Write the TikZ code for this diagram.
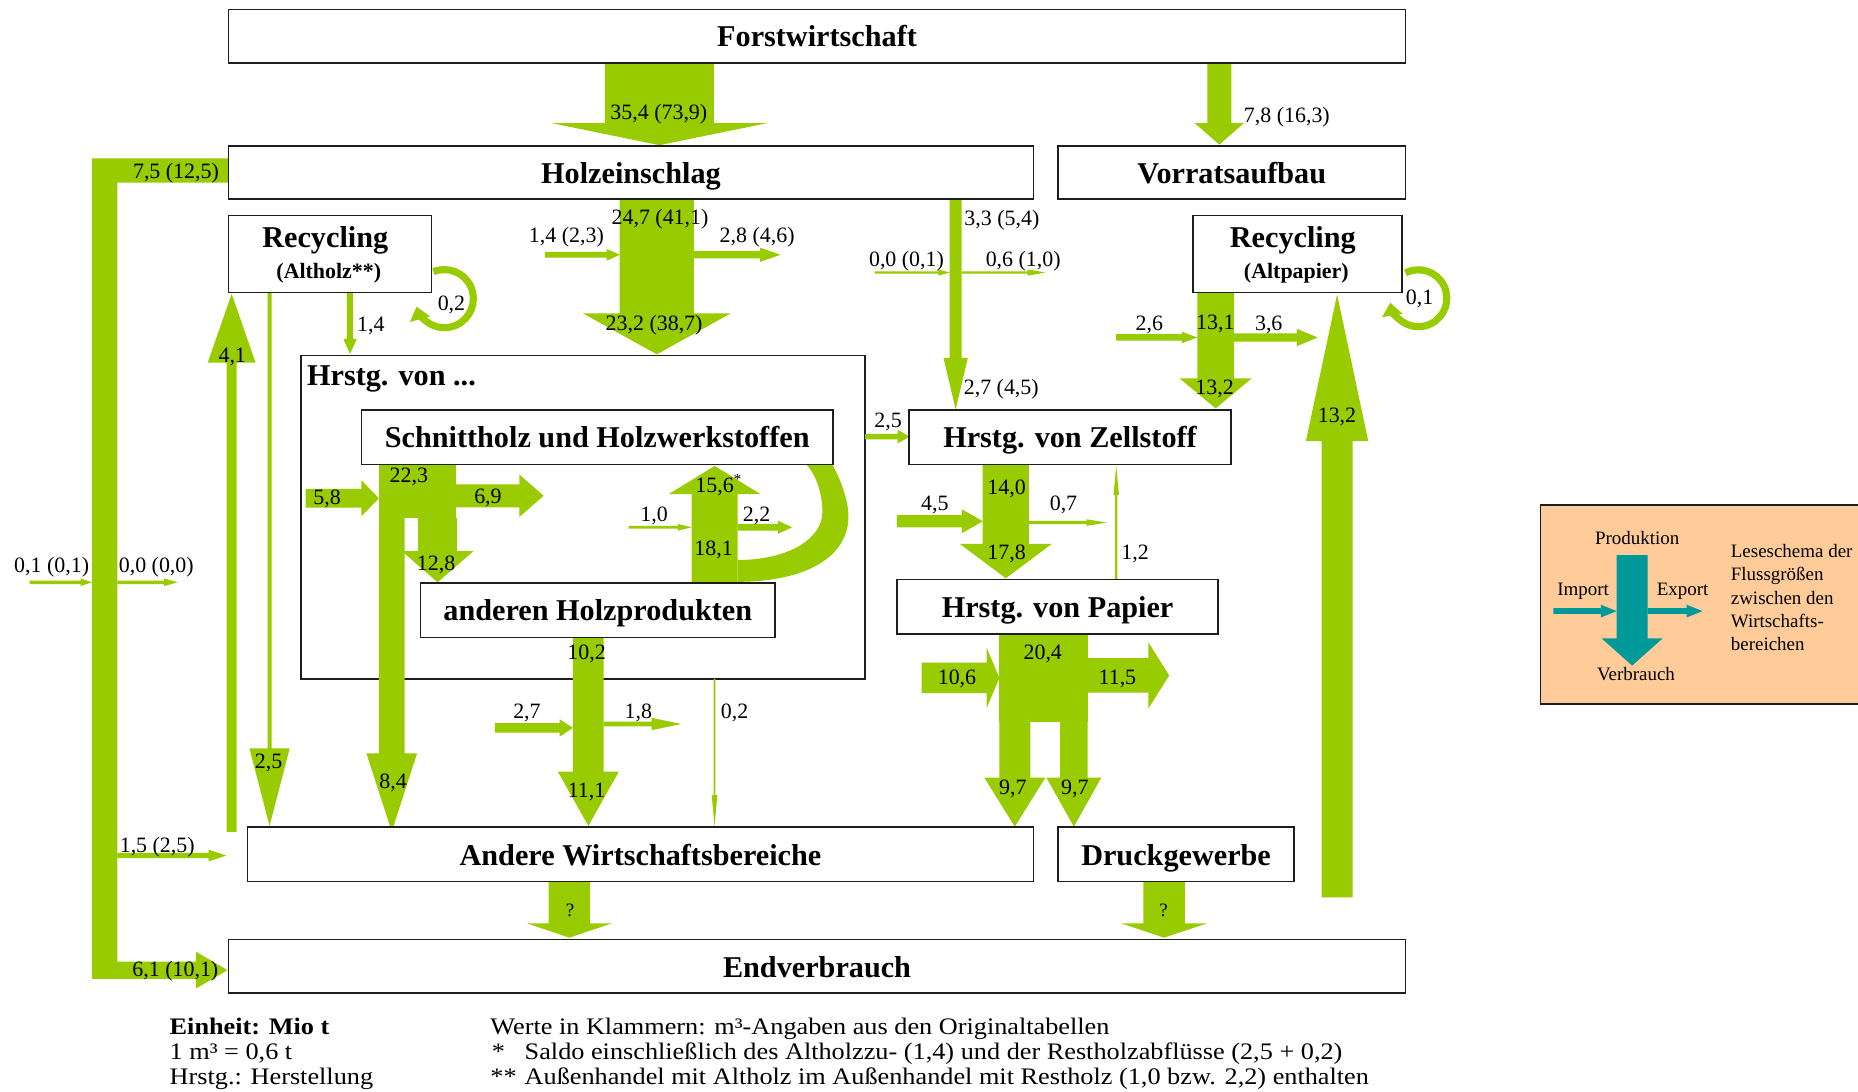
\documentclass[tikz,border=0pt]{standalone}
\usepackage{fontspec}
\setmainfont{Liberation Serif}
\newfontfamily\footfont[FakeStretch=1.108]{Liberation Serif}
\usetikzlibrary{arrows.meta}
\definecolor{flowgreen}{RGB}{153,204,0}
\definecolor{flowteal}{RGB}{0,153,153}
\definecolor{legbg}{RGB}{255,204,153}
\definecolor{boxline}{RGB}{30,30,30}
% vertical block arrow: x, y start, y head base, y tip, half shaft, half head
\newcommand{\flowV}[6]{\fill[flow] ({#1-#5},#2) -- ({#1+#5},#2) -- ({#1+#5},#3) -- ({#1+#6},#3) -- (#1,#4) -- ({#1-#6},#3) -- ({#1-#5},#3) -- cycle;}
% horizontal block arrow: y, x start, x head base, x tip, half shaft, half head
\newcommand{\flowH}[6]{\fill[flow] (#2,{#1-#5}) -- (#2,{#1+#5}) -- (#3,{#1+#5}) -- (#3,{#1+#6}) -- (#4,#1) -- (#3,{#1-#6}) -- (#3,{#1-#5}) -- cycle;}
\newcommand{\flab}[3]{\node[lbl] (#1) at (#2) {#3};}
\begin{document}
\begin{tikzpicture}[x=1pt,y=-1pt,
  flow/.style={fill=flowgreen},
  box/.style={draw=boxline,line width=1.3pt,fill=white,inner sep=0pt,outer sep=0pt,text height=18pt,text depth=0pt,font=\fontsize{25.5}{28}\selectfont\bfseries},
  btitle/.style={inner sep=0pt,text height=18pt,text depth=0pt,font=\fontsize{25.5}{28}\selectfont\bfseries},
  bsub/.style={inner sep=0pt,text height=12.5pt,text depth=0pt,font=\fontsize{18.5}{20}\selectfont\bfseries},
  lbl/.style={inner sep=0pt,text height=12.5pt,text depth=0pt,font=\fontsize{18.5}{20}\selectfont},
  qlbl/.style={inner sep=0pt,text height=11pt,text depth=0pt,font=\fontsize{16}{18}\selectfont},
  foot/.style={inner sep=0pt,anchor=west,text height=13.5pt,text depth=0pt,font=\footfont\fontsize{20}{22}\selectfont},
  leg/.style={inner sep=0pt,text height=11pt,text depth=0pt,font=\fontsize{16}{19.5}\selectfont},
  loopline/.style={draw=flowgreen,line width=6pt,-{Triangle[width=17pt,length=11pt]}}]

\useasboundingbox (0,0) rectangle (1568,921);
\fill[white] (0,0) rectangle (1568,921);

% outer box "Hrstg. von ..."
\node[draw=boxline,line width=1.3pt,inner sep=0pt,outer sep=0pt,minimum width=476pt,minimum height=273pt] (hrstg) at (492,436.5) {};

% ---- flows ----
\flowV{556.5}{53}{104}{122.5}{46}{90.5}
\flowV{1029}{53}{104}{122}{10.1}{20.7}
\flowV{554.3}{168}{264.5}{299}{31.3}{62.3}
\flowH{215}{460}{512}{523.1}{2.4}{5}
\flowH{215}{585.5}{641.5}{658.7}{3}{6}
\flowV{806.5}{168}{302}{345.5}{5.1}{10.3}
\flowH{230}{738}{792}{801.5}{1}{2.6}
\flowH{230}{811.5}{867.3}{882.4}{1}{2.6}
% Recycling Altholz
\flowV{295.4}{247}{286}{298.7}{2.6}{5.7}
\flowV{195.5}{702}{306}{248}{4.2}{20.2}
\flowV{227.5}{247}{631.5}{697}{1.7}{17}
\draw[loopline] (365.8,229.3) arc[start angle=-112, end angle=164, radius=24.5];
% big left bar
\fill[flow] (77.5,133.6) -- (193,133.6) -- (193,154.2) -- (99,154.2) -- (99,811.5) -- (165.6,811.5) -- (165.6,803.3) -- (192,818.7) -- (165.6,834.1) -- (165.6,826) -- (77.5,826) -- cycle;
\flowH{491.4}{25}{68}{77.6}{1.5}{3.2}
\flowH{491.4}{99}{138.5}{150}{1.5}{3.2}
\flowH{722}{99}{176}{191}{2.2}{5}
% inside Hrstg
\flowH{420.5}{258}{305}{319.8}{7.9}{15.2}
\fill[flow] (319.7,392) rectangle (385,437.5);
\flowV{330.6}{437}{635.7}{701.8}{10.9}{21.4}
\flowV{369.3}{437}{465}{491.4}{16.5}{30.3}
\flowH{418.4}{384.9}{438.4}{458.8}{9.7}{17.8}
\flowV{603.1}{492}{417}{393.2}{19.4}{38.75}
\flowH{445}{530.5}{572}{583.8}{1.2}{2.9}
\flowH{445}{622.4}{656.4}{668.5}{2.8}{5.6}
\fill[flow] (680.6,392) -- (702.5,392) .. controls (712,410) and (716,425) .. (716,436) .. controls (716,470) and (680,491) .. (622.4,491) -- (622.4,472.6) .. controls (665,472.6) and (694,455) .. (694,432) .. controls (694,415) and (688,400) .. (680.6,392) -- cycle;
\flowV{496.5}{538}{651.2}{697}{13}{25.7}
\flowH{614.3}{417.6}{472.3}{483.6}{4}{7.3}
\flowH{611}{509.5}{549.9}{575}{2}{5.2}
\flowV{603}{573}{671}{697.5}{0.8}{2.4}
\flowH{368.5}{730}{757.5}{767.5}{2.3}{5.8}
% Zellstoff
\flowV{848.8}{392}{459}{488}{19.5}{38.8}
\flowH{439.9}{756.8}{811.8}{829.4}{5.2}{10.1}
\flowH{441}{868.3}{917}{934}{1.4}{2.8}
\flowV{942}{489}{417.7}{393}{0.9}{2.3}
% Papier
\fill[flow] (843.3,535) rectangle (917.8,609.5);
\flowV{856.4}{609}{656.3}{697.6}{13.1}{25.75}
\flowV{906.25}{609}{656.3}{697.6}{11.55}{23.15}
\flowH{572.1}{777.8}{832.7}{843.4}{12.9}{25.35}
\flowH{570}{917.7}{969.2}{986.7}{14.5}{27.85}
% Recycling Altpapier
\flowV{1025.9}{247}{319.3}{344.6}{15.5}{30.5}
\flowH{284.8}{942}{997.3}{1010.5}{2.75}{4.9}
\flowH{284.8}{1041.3}{1094.5}{1112}{3.5}{7.3}
\flowV{1128.4}{757.2}{372.2}{248.5}{13}{26.3}
\draw[loopline] (1186.1,230.3) arc[start angle=-117, end angle=171, radius=24];
% to Endverbrauch
\flowV{480.5}{744}{779.2}{791.3}{17.5}{35.9}
\flowV{982.45}{744}{779.2}{791.3}{17.55}{36.25}

% ---- boxes ----
\node[box,minimum width=993pt,minimum height=45pt] (forst) at (689.5,30.5) {Forstwirtschaft};
\node[box,minimum width=679pt,minimum height=45pt] (holz) at (532.5,145.5) {Holzeinschlag};
\node[box,minimum width=293pt,minimum height=45pt] (vorrat) at (1039.5,145.5) {Vorratsaufbau};
\node[box,minimum width=171pt,minimum height=65pt] (recA) at (278.5,214.5) {};
\node[box,minimum width=176pt,minimum height=65pt] (recP) at (1095,214.5) {};
\node[box,minimum width=398pt,minimum height=46pt] (schnitt) at (504,369) {Schnittholz und Holzwerkstoffen};
\node[box,minimum width=299pt,minimum height=46pt] (andH) at (504.5,515) {anderen Holzprodukten};
\node[box,minimum width=272pt,minimum height=46pt] (zell) at (903,369) {Hrstg. von Zellstoff};
\node[box,minimum width=271pt,minimum height=46pt] (papier) at (892.5,512) {Hrstg. von Papier};
\node[box,minimum width=663pt,minimum height=46pt] (andW) at (540.5,721) {Andere Wirtschaftsbereiche};
\node[box,minimum width=199pt,minimum height=46pt] (druck) at (992.5,721) {Druckgewerbe};
\node[box,minimum width=993pt,minimum height=45pt] (endv) at (689.5,815.5) {Endverbrauch};

\node[btitle] (recAt) at (274.5,199.7) {Recycling};
\node[bsub] (recAs) at (277.5,229) {(Altholz**)};
\node[btitle] (recPt) at (1091,199.7) {Recycling};
\node[bsub] (recPs) at (1094,229) {(Altpapier)};
\node[btitle,anchor=west] (hrstgt) at (259,316) {Hrstg. von ...};

% ---- labels ----
\flab{a1}{556,95}{35,4 (73,9)}
\flab{a2}{1086,97}{7,8 (16,3)}
\flab{a3}{148.5,144}{7,5 (12,5)}
\flab{a4}{557,183}{24,7 (41,1)}
\flab{a5}{478,198}{1,4 (2,3)}
\flab{a6}{639,198}{2,8 (4,6)}
\flab{a7}{845.5,184}{3,3 (5,4)}
\flab{a8}{765,219}{0,0 (0,1)}
\flab{a9}{863.5,219}{0,6 (1,0)}
\flab{a10}{381,256}{0,2}
\flab{a11}{313,273.4}{1,4}
\flab{a12}{552,273}{23,2 (38,7)}
\flab{a13}{196,300}{4,1}
\flab{a14}{970,272.8}{2,6}
\flab{a15}{1025.6,271.5}{13,1}
\flab{a16}{1070.7,272.8}{3,6}
\flab{a17}{1198,251}{0,1}
\flab{a18}{1025,326.3}{13,2}
\flab{a19}{845,327}{2,7 (4,5)}
\flab{a20}{1128.3,350.2}{13,2}
\flab{a21}{749.4,354.4}{2,5}
\flab{a22}{345,400.8}{22,3}
\flab{a23}{276,419.7}{5,8}
\flab{a24}{411.8,419}{6,9}
\flab{a25}{606.5,409.3}{15,6\textsuperscript{*}}
\flab{a26}{552,433.8}{1,0}
\flab{a27}{638.5,433.8}{2,2}
\flab{a28}{602.2,462.7}{18,1}
\flab{a29}{368,474.8}{12,8}
\flab{a30}{849.5,410.7}{14,0}
\flab{a31}{789,424.8}{4,5}
\flab{a32}{897.5,424.8}{0,7}
\flab{a33}{849.5,465.5}{17,8}
\flab{a34}{958,465.5}{1,2}
\flab{a35}{43.6,476.8}{0,1 (0,1)}
\flab{a36}{131.9,476.8}{0,0 (0,0)}
\flab{a37}{495,550}{10,2}
\flab{a38}{880,550}{20,4}
\flab{a39}{807.6,571}{10,6}
\flab{a40}{943,571}{11,5}
\flab{a41}{444.7,599.7}{2,7}
\flab{a42}{538.7,599.7}{1,8}
\flab{a43}{620,599.7}{0,2}
\flab{a44}{226.7,642}{2,5}
\flab{a45}{331.8,658.8}{8,4}
\flab{a46}{495,666.7}{11,1}
\flab{a47}{854.8,663.9}{9,7}
\flab{a48}{907,663.9}{9,7}
\flab{a49}{132.7,713}{1,5 (2,5)}
\flab{a50}{148,818}{6,1 (10,1)}
\node[qlbl] (q1) at (481,768) {?};
\node[qlbl] (q2) at (982,768) {?};

% ---- footer ----
\node[foot] (f1) at (143,866.6) {\bfseries Einheit: Mio t};
\node[foot] (f2) at (143,887.7) {1 m³ = 0,6 t};
\node[foot] (f3) at (143,908.2) {Hrstg.: Herstellung};
\node[foot] (f4) at (413.7,866.6) {Werte in Klammern: m³-Angaben aus den Originaltabellen};
\node[foot] (f5a) at (415,887.7) {*};
\node[foot] (f5) at (442.6,887.7) {Saldo einschließlich des Altholzzu- (1,4) und der Restholzabflüsse (2,5 + 0,2)};
\node[foot] (f6a) at (413.7,908.2) {**};
\node[foot] (f6) at (442.6,908.2) {Außenhandel mit Altholz im Außenhandel mit Restholz (1,0 bzw. 2,2) enthalten};

% ---- legend ----
\fill[legbg] (1300,426) rectangle (1568,594);
\draw[boxline,line width=1.3pt] (1570,426) -- (1300,426) -- (1300,594) -- (1570,594);
\begin{scope}[flow/.style={fill=flowteal}]
\flowV{1377.35}{468.4}{538.7}{561.7}{13.05}{25.75}
\flowH{515.7}{1310.8}{1351}{1364.3}{2.4}{5.35}
\flowH{515.7}{1390.4}{1423.4}{1436.8}{2.4}{5.35}
\end{scope}
\node[leg] (lp) at (1381.7,454.3) {Produktion};
\node[leg] (li) at (1336,497) {Import};
\node[leg] (le) at (1420,497) {Export};
\node[leg] (lv) at (1380.6,569) {Verbrauch};
\node[inner sep=0pt,anchor=north west,align=left,font=\fontsize{16}{19.5}\selectfont] (lt) at (1460.5,459.5) {Leseschema der\\Flussgrößen\\zwischen den\\Wirtschafts-\\bereichen};
\end{tikzpicture}
\end{document}
